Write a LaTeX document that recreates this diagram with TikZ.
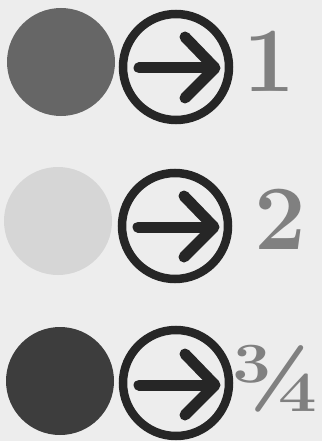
\documentclass[tikz,border=0pt]{standalone}
\begin{document}
\begin{tikzpicture}[x=1pt,y=-1pt,
  dot/.style={circle,inner sep=0pt,minimum size=108pt},
  ring/.style={circle,draw=black!85,line width=8.5pt,inner sep=0pt,minimum size=106pt},
  arr/.style={draw=black!85,line width=11pt,line cap=round,line join=round},
  num/.style={inner sep=0pt,text=black!50,font=\fontsize{92}{92}\selectfont\bfseries}]
\fill[black!7] (0,0) rectangle (322,441);
\useasboundingbox (0,0) rectangle (322,441);
% row 1
\node[dot,fill=black!60] (d1) at (61,62) {};
\node[ring] (r1) at (176,67) {};
\draw[arr] (139,68) -- (213,68);
\draw[arr] (185,37) -- (215,68) -- (185,98);
\node[num] (n1) at (269,61) {1};
% row 2
\node[dot,fill=black!16] (d2) at (58,221) {};
\node[ring] (r2) at (175,226) {};
\draw[arr] (138,227) -- (212,227);
\draw[arr] (184,196) -- (214,227) -- (184,257);
\node[num] (n2) at (280,219) {2};
% row 3
\node[dot,fill=black!76] (d3) at (60,381) {};
\node[ring] (r3) at (176,383) {};
\draw[arr] (139,385) -- (213,385);
\draw[arr] (185,354) -- (215,385) -- (185,415);
\node[num,font=\fontsize{95}{95}\selectfont\bfseries] (n3) at (275,379) {¾};
\end{tikzpicture}
\end{document}
